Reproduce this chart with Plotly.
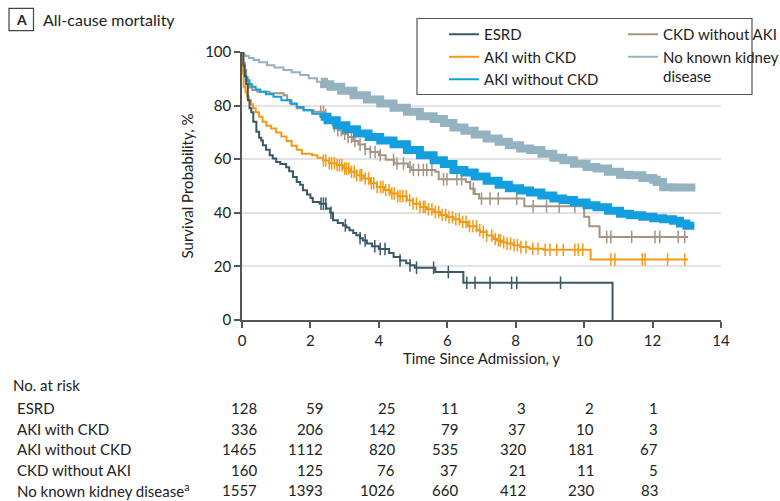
import numpy as np
import plotly.graph_objects as go

# ---------------- data ----------------
names = ["ESRD", "AKI with CKD", "AKI without CKD", "CKD without AKI", "No known kidney disease"]
colors = ["#3b5866", "#f39a16", "#139fdf", "#a39584", "#94b2c0"]

esrd_t = [0, 0.04, 0.08, 0.12, 0.17, 0.22, 0.27, 0.33, 0.42, 0.5, 0.56, 0.61, 0.7, 0.81, 0.9, 1.0,
          1.12, 1.29, 1.38, 1.49, 1.6, 1.7, 1.78, 1.9, 2.0, 2.07, 2.27, 2.46, 2.58, 2.66, 2.8, 2.95,
          3.05, 3.14, 3.25, 3.34, 3.45, 3.53, 3.65, 3.8, 4.0, 4.3, 4.43, 4.62, 4.8, 4.91, 5.05, 5.65,
          6.47, 10.83]
esrd_s = [100, 95, 91, 88, 82, 79, 77.5, 74, 70.2, 68, 67, 65.2, 63.5, 61.5, 60.3, 59,
          58.2, 57, 55.5, 53.4, 51.5, 50.5, 48.4, 46.8, 45.5, 44, 43.4, 41.6, 40, 37.2, 36.2, 35.3,
          34.5, 33.5, 32.5, 31.6, 30.5, 29.7, 28.5, 27.5, 26.5, 25, 23.5, 22.2, 21.2, 20.4, 19.5, 17.9,
          13.9, 0]
esrd_cens = [2.31, 2.38, 2.45, 2.6, 3.02, 3.45, 3.6, 3.88, 4.04, 4.18, 4.62, 4.91, 5.1, 5.6,
             6.03, 6.57, 6.81, 7.25, 7.88, 8.03, 9.31]

akickd_t = [0, 0.02, 0.05, 0.1, 0.15, 0.2, 0.26, 0.32, 0.4, 0.5, 0.6, 0.71, 0.85, 1.0, 1.15, 1.3,
            1.45, 1.6, 1.75, 2.05, 2.2, 2.37, 2.55, 2.77, 2.95, 3.16, 3.35, 3.55, 3.75, 3.94, 4.15,
            4.33, 4.55, 4.82, 5.0, 5.2, 5.4, 5.6, 5.8, 5.99, 6.18, 6.37, 6.6, 6.86, 6.96, 7.15, 7.35,
            7.45, 7.6, 7.74, 7.93, 8.13, 8.4, 8.81, 10.19, 13.04]
akickd_s = [100, 92, 87, 85, 83.5, 82, 80.5, 79, 77.5, 75.8, 74, 72.5, 71.5, 70, 68.5, 66.8,
            65, 63.5, 62, 61.5, 60.5, 59.5, 58.5, 57.8, 56.5, 55.3, 54, 52.8, 51, 49.6, 48.5,
            47.2, 46.2, 44.7, 43.4, 42.2, 41.3, 40.3, 39.2, 38.4, 37.6, 36.6, 35, 33.5, 32.8, 31.5, 30.2,
            29.7, 29, 28.5, 27.9, 27.2, 26.6, 26.2, 22.6, 22.6]
akickd_cens = [2.38, 2.45, 2.55, 2.62, 2.7, 2.78, 2.85, 2.92, 3.0, 3.05, 3.12, 3.2, 3.28, 3.35,
               3.45, 3.5, 3.6, 3.7, 3.78, 3.85, 3.95, 4.05, 4.12, 4.2, 4.3, 4.38, 4.45, 4.55, 4.62,
               4.7, 4.8, 4.9, 5.0, 5.1, 5.2, 5.3, 5.35, 5.45, 5.55, 5.65, 5.75, 5.85, 5.95, 6.05,
               6.15, 6.25, 6.35, 6.45, 6.55, 6.65, 6.75, 6.85, 6.95, 7.05, 7.15, 7.3, 7.4, 7.5,
               7.55, 7.65, 7.75, 7.85, 7.95, 8.05, 8.15, 8.3, 8.5, 8.65, 8.86, 9.0, 9.2, 9.39,
               9.73, 9.83, 9.96, 10.78, 10.9, 11.7, 11.78, 12.44, 12.94]

akinockd_t = [0, 0.02, 0.05, 0.1, 0.15, 0.22, 0.29, 0.4, 0.53, 0.7, 0.92, 1.15, 1.41, 1.6, 1.8,
              2.05, 2.29, 2.5, 2.77, 3.05, 3.36, 3.7, 4.04, 4.43, 4.82, 5.2, 5.6, 5.9, 6.18, 6.5,
              6.8, 7.15, 7.5, 7.8, 8.13, 8.42, 8.75, 9.1, 9.39, 9.7, 10.07, 10.36, 10.7, 11.05,
              11.34, 11.7, 12.02, 12.31, 12.6, 12.8, 12.99, 13.22]
akinockd_s = [100, 95, 92, 90.5, 89.5, 88, 87, 86, 85.2, 84.2, 83.3, 82, 80.8, 79.5, 78.3,
              77, 75.8, 74.5, 72.7, 71.2, 69.6, 68.3, 67, 65.6, 63.4, 61.5, 59.6, 58.2, 56, 55,
              53.5, 52, 50.5, 49.2, 48.3, 47.6, 46.5, 45.3, 44.8, 43.8, 42.8, 42.1, 40.8, 39.6,
              39.1, 38.5, 38, 37.6, 37, 36, 35.2, 35.2]

ckd_t = [0, 0.04, 0.08, 0.12, 0.17, 0.22, 0.3, 0.45, 0.8, 1.22, 1.32, 1.45, 1.6, 1.8, 2.1, 2.42,
         2.5, 2.65, 2.8, 2.95, 3.1, 3.25, 3.4, 3.6, 3.75, 4.0, 4.2, 4.45, 4.85, 4.95, 5.65, 5.75,
         6.55, 6.67, 6.8, 6.93, 8.25, 10.0, 10.15, 10.45, 13.04]
ckd_s = [100, 96, 93.3, 90.5, 88.3, 86.8, 85.8, 85.2, 84.6, 83.9, 82, 80.5, 79, 78.3, 77.7, 76.5,
         74.6, 72.5, 70.8, 69.5, 68.3, 66.8, 65.5, 63.8, 62.7, 61.5, 59.8, 58.4, 57.1, 56, 55.3, 52.5,
         51.5, 49, 47, 45.3, 42.4, 38.5, 35, 31, 31]
ckd_cens = [2.3, 2.38, 2.45, 2.7, 2.8, 2.9, 3.0, 3.1, 3.2, 3.3, 3.45, 3.6, 3.75, 3.89, 4.04, 4.43,
            4.53, 4.72, 4.91, 5.01, 5.16, 5.3, 5.4, 5.55, 5.89, 5.99, 6.28, 6.42, 6.76, 7.0, 7.25,
            7.49, 8.03, 8.51, 8.9, 9.27, 9.73, 10.66, 10.78, 11.39, 12.07, 12.21, 12.75, 12.94]

nkd_t = [0, 0.03, 0.1, 0.2, 0.34, 0.5, 0.73, 0.95, 1.21, 1.45, 1.7, 1.95, 2.19, 2.4, 2.58, 2.9,
         3.26, 3.65, 4.04, 4.43, 4.82, 5.2, 5.6, 5.9, 6.18, 6.5, 6.8, 7.15, 7.5, 7.8, 8.13, 8.42,
         8.75, 9.1, 9.39, 9.7, 10.07, 10.36, 10.7, 11.05, 11.34, 11.7, 12.02, 12.12, 12.31, 12.6,
         12.99, 13.25]
nkd_s = [100, 99, 98.5, 97.8, 97, 96.2, 95.1, 94.2, 93.3, 92.4, 91.4, 90.2, 88.9, 88, 87, 85.5,
         83.9, 82.3, 80.8, 79.2, 77.7, 76, 75, 73.5, 71.8, 70.6, 69.2, 67.7, 66.5, 65.2, 64, 63.4,
         62, 60.5, 59.6, 58.3, 57.1, 56.5, 55.3, 54.2, 54, 53, 52.3, 51.5, 49.5, 49.4,
         49.4, 49.4]

dense_start = 2.3  # heavy censoring begins (drawn as a dense band)

risk_times = [0, 2, 4, 6, 8, 10, 12]
risk_esrd = [128, 59, 25, 11, 3, 2, 1]
risk_akickd = [336, 206, 142, 79, 37, 10, 3]
risk_akinockd = [1465, 1112, 820, 535, 320, 181, 67]
risk_ckd = [160, 125, 76, 37, 21, 11, 5]
risk_nkd = [1557, 1393, 1026, 660, 412, 230, 83]
risk_labels = ["ESRD", "AKI with CKD", "AKI without CKD", "CKD without AKI",
               "No known kidney disease<sup>a</sup>"]

# ---------------- figure ----------------
W, H = 780, 501
L, R, T, B = 242, 59, 52, 181
PW, PH = W - L - R, H - T - B
def pxx(px):
    return (px - L) / PW
def pxy(py):
    return (H - B - py) / PH

FONT = "Lato"
TXT = "#222222"

def step_val(t, s, c):
    t = np.asarray(t); s = np.asarray(s)
    i = np.searchsorted(t, c, side="right") - 1
    return s[i]

fig = go.Figure()

curves = [
    (names[0], esrd_t, esrd_s, esrd_cens, False, "legend"),
    (names[1], akickd_t, akickd_s, akickd_cens, False, "legend"),
    (names[2], akinockd_t, akinockd_s, None, True, "legend"),
    (names[3], ckd_t, ckd_s, ckd_cens, False, "legend2"),
    (names[4], nkd_t, nkd_s, None, True, "legend2"),
]
legend_names = {names[4]: "No known kidney<br>disease"}

draw_order = [4, 3, 2, 1, 0]
for idx in draw_order:
    nm, t, s, cens, dense, lg = curves[idx]
    col = colors[idx]
    fig.add_trace(go.Scatter(x=t, y=s, mode="lines", line=dict(color=col, width=2, shape="hv"),
                             name=legend_names.get(nm, nm), legend=lg, showlegend=False,
                             hoverinfo="skip"))
    if dense:
        t_arr = np.asarray(t); s_arr = np.asarray(s)
        m = t_arr > dense_start
        bx = np.concatenate([[dense_start], t_arr[m]])
        by = np.concatenate([[step_val(t, s, dense_start)], s_arr[m]])
        fig.add_trace(go.Scatter(x=bx, y=by, mode="lines",
                                 line=dict(color=col, width=8, shape="hv"),
                                 showlegend=False, hoverinfo="skip"))
    if cens is not None:
        fig.add_trace(go.Scatter(x=cens, y=step_val(t, s, cens), mode="markers",
                                 marker=dict(symbol="line-ns", size=9,
                                             line=dict(color=col, width=1.5)),
                                 showlegend=False, hoverinfo="skip"))

# legend entries (in the reference order)
for idx in [0, 1, 2, 3, 4]:
    nm, t, s, cens, dense, lg = curves[idx]
    fig.add_trace(go.Scatter(x=[None], y=[None], mode="lines",
                             line=dict(color=colors[idx], width=2),
                             name=legend_names.get(nm, nm), legend=lg, showlegend=True))

axis_common = dict(showline=True, linecolor="#555555", linewidth=1.5, ticks="outside",
                   ticklen=6, tickcolor="#555555", tickwidth=1.5,
                   tickfont=dict(family=FONT, size=15, color=TXT), zeroline=False)

fig.update_layout(
    width=W, height=H, margin=dict(l=L, r=R, t=T, b=B, autoexpand=False),
    paper_bgcolor="white", plot_bgcolor="white",
    font=dict(family=FONT, size=15, color=TXT),
    xaxis=dict(range=[0, 14], tickvals=list(range(0, 15, 2)), showgrid=False,
               title=dict(text="Time Since Admission, y", font=dict(family=FONT, size=15, color=TXT),
                          standoff=6),
               **axis_common),
    yaxis=dict(range=[0, 100], tickvals=[0, 20, 40, 60, 80, 100], showgrid=True,
               gridcolor="#e3e3e3", gridwidth=1.5,
               title=dict(text="Survival Probability, %", font=dict(family=FONT, size=15, color=TXT),
                          standoff=8),
               **axis_common),
    legend=dict(xref="container", yref="container", x=444 / W, y=1 - 18 / H,
                xanchor="left", yanchor="top", bgcolor="rgba(0,0,0,0)",
                font=dict(family=FONT, size=15, color=TXT), tracegroupgap=0, valign="top"),
    legend2=dict(xref="container", yref="container", x=623 / W, y=1 - 18 / H,
                 xanchor="left", yanchor="top", bgcolor="rgba(0,0,0,0)",
                 font=dict(family=FONT, size=15, color=TXT), tracegroupgap=0, valign="top"),
    showlegend=True,
)

shapes = [
    # legend frame
    dict(type="rect", xref="paper", yref="paper", x0=pxx(417), x1=pxx(752), y0=pxy(94.5), y1=pxy(18.5),
         line=dict(color="#555555", width=1.2), fillcolor="rgba(0,0,0,0)", layer="above"),
    # panel label box
    dict(type="rect", xref="paper", yref="paper", x0=pxx(9), x1=pxx(33.5), y0=pxy(30.7), y1=pxy(8.3),
         line=dict(color="#444444", width=1.2), fillcolor="white"),
]
fig.update_layout(shapes=shapes)

ann = []
ann.append(dict(text="<b>A</b>", x=pxx(21.3), y=pxy(19.5), xref="paper", yref="paper",
                showarrow=False, xanchor="center", yanchor="middle",
                font=dict(family=FONT, size=14, color=TXT)))
ann.append(dict(text="All-cause mortality", x=pxx(41), y=pxy(19.5), xref="paper", yref="paper",
                showarrow=False, xanchor="left", yanchor="middle",
                font=dict(family=FONT, size=16, color=TXT)))
ann.append(dict(text="No. at risk", x=pxx(11), y=pxy(385), xref="paper", yref="paper",
                showarrow=False, xanchor="left", yanchor="middle",
                font=dict(family=FONT, size=15, color=TXT)))
row_y = [407.5, 428.5, 449, 469.5, 490]
col_right = [258.5, 325, 397, 459.5, 528, 596, 660]
risk_rows = [risk_esrd, risk_akickd, risk_akinockd, risk_ckd, risk_nkd]
for r, (lab, vals) in enumerate(zip(risk_labels, risk_rows)):
    ann.append(dict(text=lab, x=pxx(15), y=pxy(row_y[r]), xref="paper", yref="paper",
                    showarrow=False, xanchor="left", yanchor="middle",
                    font=dict(family=FONT, size=15, color=TXT)))
    for c, v in enumerate(vals):
        ann.append(dict(text=str(v), x=pxx(col_right[c]), y=pxy(row_y[r]), xref="paper",
                        yref="paper", showarrow=False, xanchor="right", yanchor="middle",
                        font=dict(family=FONT, size=15, color=TXT)))
fig.update_layout(annotations=ann)

fig.write_html("out.html")
